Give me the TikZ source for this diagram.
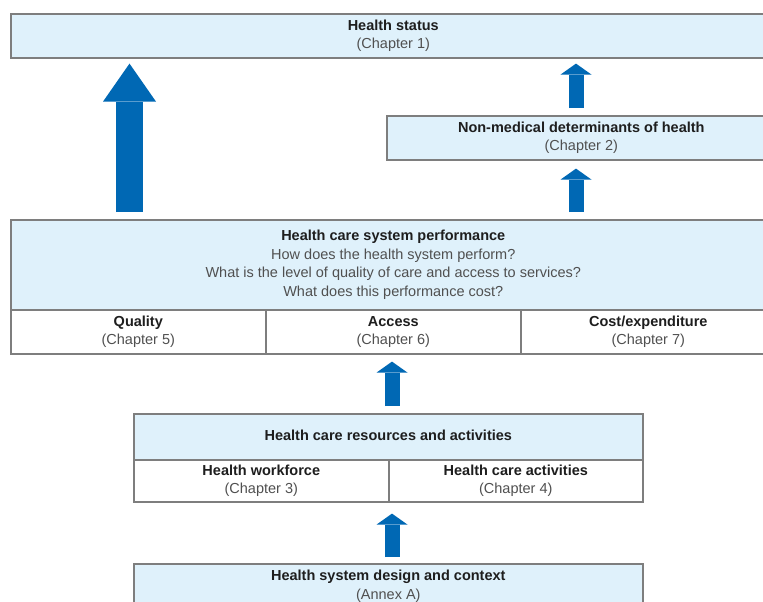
\documentclass[tikz,border=0pt]{standalone}
\usepackage{fontspec}
\setmainfont{Liberation Sans}
\usetikzlibrary{arrows.meta}
\definecolor{boxfill}{HTML}{DFF1FB}
\definecolor{boxline}{HTML}{7E7E7E}
\definecolor{arrowblue}{HTML}{0068B4}
\definecolor{headtext}{HTML}{1E1E1E}
\definecolor{subtext}{HTML}{505050}
\newcommand{\hd}[1]{{\bfseries\color{headtext}\strut#1}}
\newcommand{\sub}[1]{{\color{subtext}\strut#1}}
\tikzset{
  cell/.style={draw=boxline, line width=1.6pt, inner sep=0pt, anchor=north west,
    align=center, font=\fontsize{14.5}{18.5}\selectfont, text=subtext},
  bluecell/.style={cell, fill=boxfill},
  whitecell/.style={cell, fill=white},
  bigarrow/.style={draw=arrowblue, line width=27pt,
    -{Triangle[width=53pt,length=38pt,fill=arrowblue,line width=0pt]}},
  smallarrow/.style={draw=arrowblue, line width=15pt,
    -{Triangle[width=31pt,length=11pt,fill=arrowblue,line width=0pt]}}
}
\begin{document}
\begin{tikzpicture}[x=1pt,y=-1pt]
\useasboundingbox (0,0) rectangle (763,602);
\clip (0,0) rectangle (763,602);
\fill[white] (0,0) rectangle (763,602);

% Health status
\node[bluecell, minimum width=765pt, minimum height=44pt] (status) at (10,13)
  {\hd{Health status}\\ \sub{(Chapter 1)}};

% Non-medical determinants
\node[bluecell, minimum width=389pt, minimum height=44pt] (nonmed) at (386,115)
  {\hd{Non-medical determinants of health}\\ \sub{(Chapter 2)}};

% Performance
\node[bluecell, minimum width=765pt, minimum height=90pt] (perf) at (10,219)
  {\hd{Health care system performance}\\
   \strut How does the health system perform?\\
   \strut What is the level of quality of care and access to services?\\
   \strut What does this performance cost?};
\node[whitecell, minimum width=255pt, minimum height=44pt] (quality) at (10,309)
  {\hd{Quality}\\ \sub{(Chapter 5)}};
\node[whitecell, minimum width=255pt, minimum height=44pt] (access) at (265,309)
  {\hd{Access}\\ \sub{(Chapter 6)}};
\node[whitecell, minimum width=255pt, minimum height=44pt] (cost) at (520,309)
  {\hd{Cost/expenditure}\\ \sub{(Chapter 7)}};

% Resources
\node[bluecell, minimum width=509pt, minimum height=46pt] (res) at (133,413)
  {\hd{Health care resources and activities}};
\node[whitecell, minimum width=255pt, minimum height=42pt] (work) at (133,459)
  {\hd{Health workforce}\\ \sub{(Chapter 3)}};
\node[whitecell, minimum width=254pt, minimum height=42pt] (act) at (388,459)
  {\hd{Health care activities}\\ \sub{(Chapter 4)}};

% Design
\node[bluecell, minimum width=509pt, minimum height=45pt] (design) at (133,563)
  {\hd{Health system design and context}\\ \sub{(Annex A)}};

% Arrows
\coordinate (bx) at (129.5,0);
\coordinate (sx) at (576,0);
\coordinate (mx) at (392,0);
\draw[bigarrow, shorten <=7pt, shorten >=5pt] (perf.north -| bx) -- (status.south -| bx);
\draw[smallarrow, shorten <=7pt, shorten >=5pt] (nonmed.north -| sx) -- (status.south -| sx);
\draw[smallarrow, shorten <=7pt, shorten >=8pt] (perf.north -| sx) -- (nonmed.south -| sx);
\draw[smallarrow, shorten <=7pt, shorten >=7pt] (res.north -| mx) -- (access.south -| mx);
\draw[smallarrow, shorten <=6pt, shorten >=11pt] (design.north -| mx) -- (act.south -| mx);
\end{tikzpicture}
\end{document}
